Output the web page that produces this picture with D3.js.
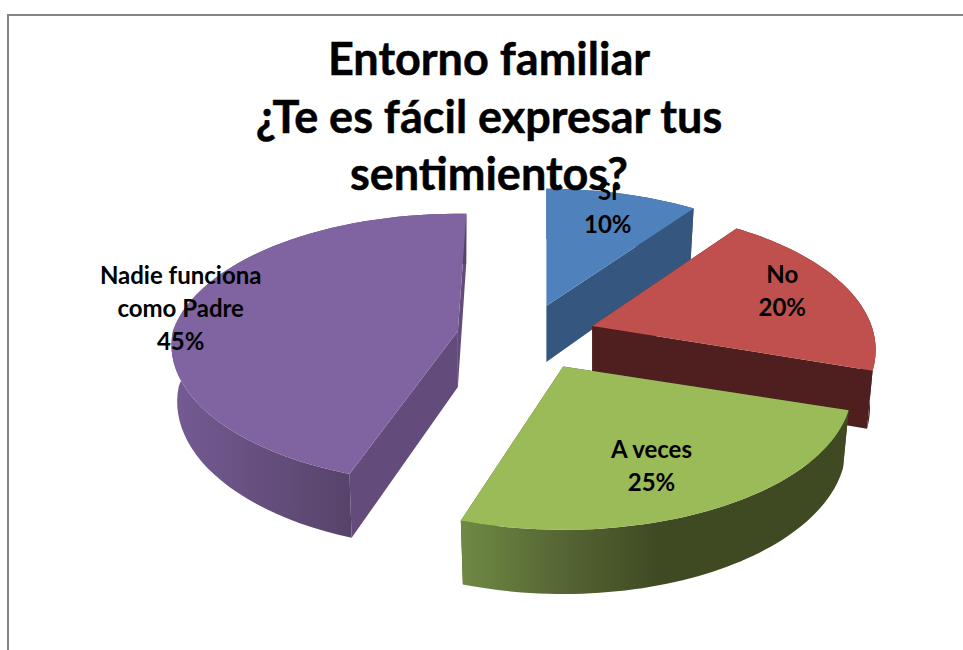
<!DOCTYPE html>
<html><head><meta charset="utf-8">
<script src="https://cdn.jsdelivr.net/npm/d3@7/dist/d3.min.js"></script>
<style>html,body{margin:0;padding:0;background:#fff;overflow:hidden}svg{display:block}</style>
</head><body><div id="c"></div>
<script>
const categories = ["Sí", "No", "A veces", "Nadie funciona como Padre"];
const values = [10, 20, 25, 45];
const titleLines = ["Entorno familiar", "¿Te es fácil expresar tus", "sentimientos?"];
const labelLines = [["Sí"], ["No"], ["A veces"], ["Nadie funciona", "como Padre"]];

const W = 963, H = 650;
const cx = 528, cy = 336, rx = 285, ry = 137, persp = 0.17, explode = 0.24, depth = 56, taper = 0.98;
const topColors = ["#4f81bd", "#c0504d", "#9bbb59", "#8064a2"];
const faceColors = ["#35567f", "#4f1f1f", "#3f4a22", "#634c7c"];
const sideStops = [
  [[0, "#35567f"], [1, "#35567f"]],
  [[0, "#4f1f1f"], [1, "#4f1f1f"]],
  [[0, "#6f8a44"], [0.45, "#566634"], [0.9, "#3f4a22"], [1, "#3f4a22"]],
  [[0, "#745b94"], [1, "#574369"]]
];
const sideExtent = [[0, 1], [0, 1], [461, 680], [172, 352]];
// Per-slice corrections of the reference's 3D rendering
const sliceDx = [-2, 0, 3, -3];
const sliceXScale = [1, 0.98, 1, 1];
const sliceRotate = [0, 0, -0.3 * Math.PI / 180, 2 * Math.PI / 180];
const sliceFrontShrink = [0, 0, 0.01, 0.07];
const labelRadius = [0.8, 0.72, 0.7, 1.0];
const labelNudge = [[-3, -5], [2, -5], [-10, 5], [-6, -1]];

const svg = d3.select("#c").append("svg").attr("width", W).attr("height", H);
const defs = svg.append("defs");
svg.append("rect").attr("width", W).attr("height", H).attr("fill", "#fff");
svg.append("path").attr("d", `M${W},15H8V${H}`).attr("fill", "none").attr("stroke", "#868686").attr("stroke-width", 2);

const arcs = d3.pie().sort(null).value(d => d)(values);
const order = [0, 3, 1, 2];

// Perspective projection of the unit-disc position (angle, radius)
const proj = (a, r) => {
  const u = r * Math.sin(a), v = -r * Math.cos(a), s = 1 / (1 - persp * v);
  return { x: rx * u * s, y: ry * v * s, s, v };
};
const line = d3.line().x(d => d[0]).y(d => d[1]);

order.forEach(i => {
  const d = arcs[i], mid = (d.startAngle + d.endAngle) / 2;
  const e = proj(mid, explode), ax = cx + e.x + sliceDx[i], ay = cy + e.y;
  const local = (a, r) => {
    const p = proj(a + sliceRotate[i], r), k = 1 - sliceFrontShrink[i] * Math.max(p.v, 0);
    return { x: p.x * k * sliceXScale[i], y: p.y * k, s: p.s };
  };
  const top = (a, r) => { const p = local(a, r); return [ax + p.x, ay + p.y]; };
  const bot = (a, r) => { const p = local(a, r); return [ax + p.x * taper, ay + p.y * taper + depth * p.s]; };
  const angles = d3.range(0, 61).map(k => d.startAngle + (d.endAngle - d.startAngle) * k / 60);

  const g = svg.append("g");
  const id = "side" + i;
  const grad = defs.append("linearGradient").attr("id", id).attr("gradientUnits", "userSpaceOnUse")
    .attr("x1", sideExtent[i][0]).attr("x2", sideExtent[i][1]).attr("y1", 0).attr("y2", 0);
  sideStops[i].forEach(s => grad.append("stop").attr("offset", s[0]).attr("stop-color", s[1]));

  // Cut faces
  [d.startAngle, d.endAngle].forEach(a => {
    g.append("path").attr("d", line([top(a, 0), top(a, 1), bot(a, 1), bot(a, 0)]) + "Z").attr("fill", faceColors[i]);
  });
  // Outer wall
  g.append("path").attr("d", line(angles.map(a => top(a, 1)).concat(angles.slice().reverse().map(a => bot(a, 1)))) + "Z")
    .attr("fill", `url(#${id})`);
  // Top face
  g.append("path").attr("d", line([top(0, 0)].concat(angles.map(a => top(a, 1)))) + "Z").attr("fill", topColors[i]);
});

const titleSel = svg.append("g").attr("font-family", "Lato").attr("font-weight", 700).attr("font-size", 45)
  .attr("text-anchor", "middle").attr("fill", "#000").attr("stroke", "#000").attr("stroke-width", 0.5);
titleLines.forEach((t, i) => titleSel.append("text").attr("x", 489).attr("y", 75 + i * 57.5).text(t));

const labels = svg.append("g").attr("font-family", "Lato").attr("font-weight", 700).attr("font-size", 24)
  .attr("text-anchor", "middle").attr("fill", "#000");
const total = d3.sum(values);
arcs.forEach((d, i) => {
  const mid = (d.startAngle + d.endAngle) / 2;
  const e = proj(mid, explode), p = proj(mid, labelRadius[i]);
  const lines = labelLines[i].concat([d3.format(".0%")(values[i] / total)]);
  const x = cx + e.x + p.x + labelNudge[i][0], y = cy + e.y + p.y + labelNudge[i][1];
  lines.forEach((t, k) => labels.append("text").attr("x", x)
    .attr("y", y + (k - (lines.length - 1) / 2) * 33 + 8).text(t));
});
</script></body></html>
